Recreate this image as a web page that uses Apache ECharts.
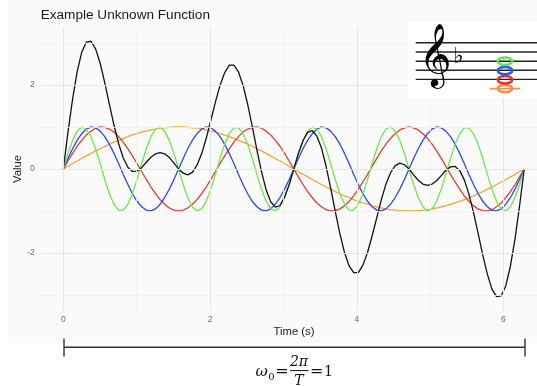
<!DOCTYPE html>
<html>
<head>
<meta charset="utf-8">
<script src="https://cdn.jsdelivr.net/npm/echarts@6/dist/echarts.min.js"></script>
<style>html,body{margin:0;padding:0;background:#fff}#chart{width:537px;height:386px}</style>
</head>
<body>
<div id="chart"></div>
<script>
// sample times (s)
const time = [
  0,0.063,0.126,0.188,0.251,0.314,0.377,0.440,0.503,0.565,
  0.628,0.691,0.754,0.817,0.880,0.942,1.005,1.068,1.131,1.194,
  1.257,1.319,1.382,1.445,1.508,1.571,1.634,1.696,1.759,1.822,
  1.885,1.948,2.011,2.073,2.136,2.199,2.262,2.325,2.388,2.450,
  2.513,2.576,2.639,2.702,2.765,2.827,2.890,2.953,3.016,3.079,
  3.142,3.204,3.267,3.330,3.393,3.456,3.519,3.581,3.644,3.707,
  3.770,3.833,3.896,3.958,4.021,4.084,4.147,4.210,4.273,4.335,
  4.398,4.461,4.524,4.587,4.650,4.712,4.775,4.838,4.901,4.964,
  5.027,5.089,5.152,5.215,5.278,5.341,5.404,5.466,5.529,5.592,
  5.655,5.718,5.781,5.843,5.906,5.969,6.032,6.095,6.158,6.220,
  6.283
];
// orange
const wave1 = [
  0,0.06,0.13,0.19,0.25,0.31,0.37,0.43,0.48,0.54,
  0.59,0.64,0.68,0.73,0.77,0.81,0.84,0.88,0.9,0.93,
  0.95,0.97,0.98,0.99,1,1,1,0.99,0.98,0.97,
  0.95,0.93,0.9,0.88,0.84,0.81,0.77,0.73,0.68,0.64,
  0.59,0.54,0.48,0.43,0.37,0.31,0.25,0.19,0.13,0.06,
  0,-0.06,-0.13,-0.19,-0.25,-0.31,-0.37,-0.43,-0.48,-0.54,
  -0.59,-0.64,-0.68,-0.73,-0.77,-0.81,-0.84,-0.88,-0.9,-0.93,
  -0.95,-0.97,-0.98,-0.99,-1,-1,-1,-0.99,-0.98,-0.97,
  -0.95,-0.93,-0.9,-0.88,-0.84,-0.81,-0.77,-0.73,-0.68,-0.64,
  -0.59,-0.54,-0.48,-0.43,-0.37,-0.31,-0.25,-0.19,-0.13,-0.06,
  0
];
// red
const wave3 = [
  0,0.19,0.37,0.54,0.68,0.81,0.9,0.97,1,0.99,
  0.95,0.88,0.77,0.64,0.48,0.31,0.13,-0.06,-0.25,-0.43,
  -0.59,-0.73,-0.84,-0.93,-0.98,-1,-0.98,-0.93,-0.84,-0.73,
  -0.59,-0.43,-0.25,-0.06,0.13,0.31,0.48,0.64,0.77,0.88,
  0.95,0.99,1,0.97,0.9,0.81,0.68,0.54,0.37,0.19,
  0,-0.19,-0.37,-0.54,-0.68,-0.81,-0.9,-0.97,-1,-0.99,
  -0.95,-0.88,-0.77,-0.64,-0.48,-0.31,-0.13,0.06,0.25,0.43,
  0.59,0.73,0.84,0.93,0.98,1,0.98,0.93,0.84,0.73,
  0.59,0.43,0.25,0.06,-0.13,-0.31,-0.48,-0.64,-0.77,-0.88,
  -0.95,-0.99,-1,-0.97,-0.9,-0.81,-0.68,-0.54,-0.37,-0.19,
  0
];
// blue
const wave4 = [
  0,0.25,0.48,0.68,0.84,0.95,1,0.98,0.9,0.77,0.59,0.37,0.13,-0.13,-0.37,-0.59,-0.77,-0.9,-0.98,-1,-0.95,-0.84,-0.68,-0.48,-0.25,
  0,0.25,0.48,0.68,0.84,0.95,1,0.98,0.9,0.77,0.59,0.37,0.13,-0.13,-0.37,-0.59,-0.77,-0.9,-0.98,-1,-0.95,-0.84,-0.68,-0.48,-0.25,
  0,0.25,0.48,0.68,0.84,0.95,1,0.98,0.9,0.77,0.59,0.37,0.13,-0.13,-0.37,-0.59,-0.77,-0.9,-0.98,-1,-0.95,-0.84,-0.68,-0.48,-0.25,
  0,0.25,0.48,0.68,0.84,0.95,1,0.98,0.9,0.77,0.59,0.37,0.13,-0.13,-0.37,-0.59,-0.77,-0.9,-0.98,-1,-0.95,-0.84,-0.68,-0.48,-0.25,
  0
];
// green
const wave6 = [
  0,0.37,0.68,0.9,1,0.95,0.77,0.48,0.13,-0.25,
  -0.59,-0.84,-0.98,-0.98,-0.84,-0.59,-0.25,0.13,0.48,0.77,
  0.95,1,0.9,0.68,0.37,0,-0.37,-0.68,-0.9,-1,
  -0.95,-0.77,-0.48,-0.13,0.25,0.59,0.84,0.98,0.98,0.84,
  0.59,0.25,-0.13,-0.48,-0.77,-0.95,-1,-0.9,-0.68,-0.37,
  0,0.37,0.68,0.9,1,0.95,0.77,0.48,0.13,-0.25,
  -0.59,-0.84,-0.98,-0.98,-0.84,-0.59,-0.25,0.13,0.48,0.77,
  0.95,1,0.9,0.68,0.37,0,-0.37,-0.68,-0.9,-1,
  -0.95,-0.77,-0.48,-0.13,0.25,0.59,0.84,0.98,0.98,0.84,
  0.59,0.25,-0.13,-0.48,-0.77,-0.95,-1,-0.9,-0.68,-0.37,
  0
];
// black (the unknown function)
const unknown = [
  0,0.87,1.66,2.31,2.78,3.02,3.04,2.86,2.51,2.05,
  1.54,1.04,0.6,0.26,0.04,-0.06,-0.05,0.03,0.16,0.28,
  0.36,0.39,0.36,0.27,0.14,0,-0.1,-0.14,-0.08,0.09,
  0.36,0.73,1.16,1.59,1.99,2.29,2.47,2.47,2.31,1.99,
  1.54,1.01,0.45,-0.07,-0.5,-0.78,-0.91,-0.87,-0.67,-0.37,
  0,0.37,0.67,0.87,0.91,0.78,0.5,0.07,-0.45,-1.01,
  -1.54,-1.99,-2.31,-2.47,-2.47,-2.29,-1.99,-1.59,-1.16,-0.73,
  -0.36,-0.09,0.08,0.14,0.1,0,-0.14,-0.27,-0.36,-0.39,
  -0.36,-0.28,-0.16,-0.03,0.05,0.06,-0.04,-0.26,-0.6,-1.04,
  -1.54,-2.05,-2.51,-2.86,-3.04,-3.02,-2.78,-2.31,-1.66,-0.87,
  0
];
const xTicks = [0, 2, 4, 6];
const yTicks = [-2, 0, 2];
const xMinor = [1, 3, 5];
const yMinor = [-3, -1, 1, 3];

const chart = echarts.init(document.getElementById('chart'));

const pairs = arr => time.map((t, i) => [t, arr[i]]);
const wave = (name, arr, color) => ({
  name, type: 'line', data: pairs(arr), showSymbol: false, silent: true,
  lineStyle: { color, width: 1.3 }, z: 3
});

const major = { color: '#e6e6e6', width: 1.1, type: 'solid' };
const minor = { color: '#f0f0f0', width: 0.8, type: 'solid' };
const gridLines = []
  .concat(xTicks.map(v => ({ xAxis: v, lineStyle: major })))
  .concat(xMinor.map(v => ({ xAxis: v, lineStyle: minor })))
  .concat(yTicks.map(v => ({ yAxis: v, lineStyle: major })))
  .concat(yMinor.map(v => ({ yAxis: v, lineStyle: minor })));

const serif = 'DejaVu Serif';
const txt = (x, y, text, size, opt) => ({
  type: 'text', x, y, z: 200, silent: true,
  style: Object.assign({ text, fontSize: size, fill: '#111', fontFamily: serif, align: 'center', verticalAlign: 'middle' }, opt || {})
});
const staffY = [42.7, 52, 61.2, 70.3, 79.4];
const note = (y, color) => ({
  type: 'ellipse', z: 200, shape: { cx: 505, cy: y, rx: 7.3, ry: 3.7 },
  style: { fill: 'none', stroke: color, lineWidth: 2.5 }, silent: true
});

chart.setOption({
  animation: false,
  backgroundColor: '#fff',
  grid: { left: 40.3, top: 27.4, width: 496.7, height: 283.1, containLabel: false },
  xAxis: {
    type: 'value', min: -0.314, max: 6.457,
    axisLine: { show: false }, axisTick: { show: false }, splitLine: { show: false },
    axisLabel: { customValues: xTicks, color: '#6b6b6b', fontSize: 8.5, margin: 5, fontFamily: 'Liberation Sans' }
  },
  yAxis: {
    type: 'value', min: -3.37, max: 3.37,
    axisLine: { show: false }, axisTick: { show: false }, splitLine: { show: false },
    axisLabel: { customValues: yTicks, color: '#6b6b6b', fontSize: 8.5, margin: 5.5, fontFamily: 'Liberation Sans' }
  },
  series: [
    {
      type: 'line', data: [], silent: true, z: 1,
      markLine: { silent: true, symbol: ['none', 'none'], label: { show: false }, animation: false, data: gridLines }
    },
    wave('sin(t)', wave1, '#f7a535'),
    wave('sin(3t)', wave3, '#ec3a2c'),
    wave('sin(4t)', wave4, '#2a46ff'),
    wave('sin(6t)', wave6, '#6de84a'),
    wave('f(t)', unknown, '#111111')
  ],
  graphic: [
    { type: 'rect', z: -100, shape: { x: 8, y: 0, width: 529, height: 343 }, style: { fill: '#fafafa' }, silent: true },
    { type: 'rect', z: 150, shape: { x: 408, y: 22, width: 129, height: 76 }, style: { fill: '#ffffff' }, silent: true },
    {
      type: 'text', x: 40.7, y: 15.3, silent: true,
      style: { text: 'Example Unknown Function', fontSize: 13.6, fill: '#1a1a1a', fontFamily: 'Liberation Sans', verticalAlign: 'middle' }
    },
    {
      type: 'text', x: 294, y: 331.5, silent: true,
      style: { text: 'Time (s)', fontSize: 11.3, fill: '#1a1a1a', fontFamily: 'Liberation Sans', align: 'center', verticalAlign: 'middle' }
    },
    {
      type: 'text', x: 17.5, y: 169, rotation: Math.PI / 2, silent: true,
      style: { text: 'Value', fontSize: 11.3, fill: '#1a1a1a', fontFamily: 'Liberation Sans', align: 'center', verticalAlign: 'middle' }
    },
    // bracket
    { type: 'line', shape: { x1: 64, y1: 347.3, x2: 525, y2: 347.3 }, style: { stroke: '#333', lineWidth: 1.4 }, silent: true },
    { type: 'line', shape: { x1: 64, y1: 338.5, x2: 64, y2: 356.5 }, style: { stroke: '#333', lineWidth: 1.4 }, silent: true },
    { type: 'line', shape: { x1: 525, y1: 338.5, x2: 525, y2: 356.5 }, style: { stroke: '#333', lineWidth: 1.4 }, silent: true },
    // formula
    txt(261.5, 372.5, 'ω', 15, { fontStyle: 'italic' }),
    txt(271.5, 377.5, '0', 10),
    txt(282, 372, '=', 16),
    txt(299, 362.5, '2π', 14, { fontStyle: 'italic' }),
    { type: 'line', z: 200, shape: { x1: 290, y1: 370.6, x2: 308.5, y2: 370.6 }, style: { stroke: '#111', lineWidth: 1 }, silent: true },
    txt(299, 381, 'T', 14, { fontStyle: 'italic' }),
    txt(316.7, 372, '=', 16),
    txt(328.5, 372.5, '1', 14),
    // staff
    ...staffY.map(y => ({ type: 'line', z: 200, shape: { x1: 415.7, y1: y, x2: 537, y2: y }, style: { stroke: '#222', lineWidth: 1.4 }, silent: true })),
    txt(435.5, 59, '𝄞', 55, { fontFamily: 'DejaVu Sans', fill: '#000' }),
    txt(458.5, 57.5, '♭', 22, { fontFamily: 'DejaVu Sans', fill: '#000' }),
    { type: 'line', z: 200, shape: { x1: 490, y1: 88.6, x2: 520, y2: 88.6 }, style: { stroke: '#ef8f4a', lineWidth: 1.6 }, silent: true },
    note(88.6, '#ef8f4a'),
    note(79.8, '#e8302a'),
    note(70.6, '#2a5af0'),
    note(61.3, '#5ee84a')
  ]
});
</script>
</body>
</html>
